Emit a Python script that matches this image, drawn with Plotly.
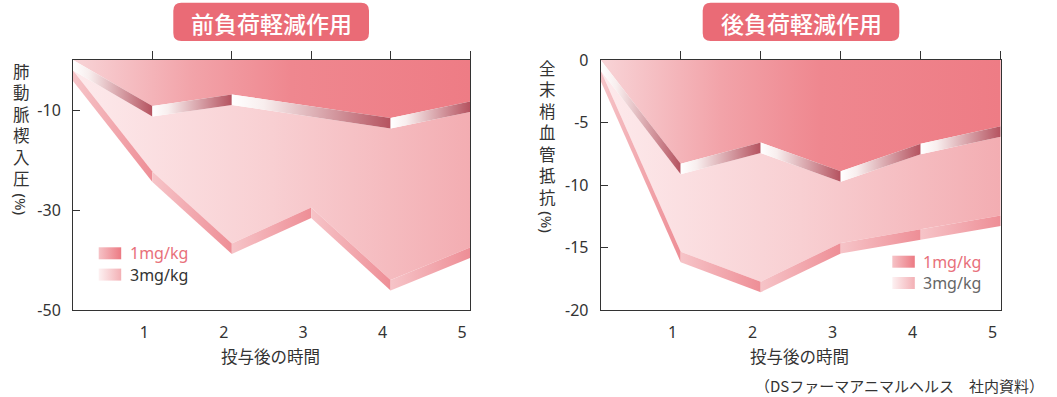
import plotly.graph_objects as go

W, H = 1057, 397

# ---- data -------------------------------------------------------------
hours = [0, 1, 2, 3, 4, 5]
x_ticks = [1, 2, 3, 4, 5]

# 前負荷軽減作用: 肺動脈楔入圧 (%)
pre_hours_1mg = [0, 1, 2, 4, 5]
pre_1mg = [0, -9.2, -6.9, -11.6, -8.3]
pre_3mg = [0, -20.2, -34.6, -27.4, -41.9, -35.4]
pre_y_ticks = [-10, -30, -50]

# 後負荷軽減作用: 全末梢血管抵抗 (%)
post_1mg = [0, -8.3, -6.6, -8.9, -6.7, -5.3]
post_3mg = [0, -14.5, -16.9, -13.8, -12.7, -11.6]
post_y_ticks = [0, -5, -10, -15, -20]

dose_labels = ["1mg/kg", "3mg/kg"]
panel_titles = ["前負荷軽減作用", "後負荷軽減作用"]
y_titles = ["肺動脈楔入圧", "全末梢血管抵抗"]
y_unit = "(%)"
x_title = "投与後の時間"
source_note = "（DSファーマアニマルヘルス　社内資料）"

# ---- styles -----------------------------------------------------------
FONT = "Noto Sans CJK JP"
NUM_FONT = "Noto Sans, Noto Sans CJK JP"
TEXT = "#333333"
ACCENT = "#ea6b76"
RIBBON_PX = 10.5          # visual thickness of the folded edges, in pixels

TOP_PLANE = [[0, "#f8d4d7"], [0.3, "#f2a3a9"], [0.55, "#ef878f"], [1, "#ee7c85"]]
LOW_PLANE = [[0, "#fdeaec"], [0.5, "#f8cfd2"], [1, "#f3adb2"]]
EDGE_1MG = [[0, "#ffffff"], [0.2, "#f8eeee"], [1, "#b5525f"]]
EDGE_3MG = [[0, "#f6c4c8"], [1, "#ee8e96"]]
SWATCH_1MG = [[0, "#f6c3c7"], [1, "#ec7a83"]]
SWATCH_3MG = [[0, "#fdf1f2"], [1, "#f3b0b5"]]

# panel boxes in pixels: (left, top, right, bottom)
boxes = [(73, 60, 470, 310), (600.7, 60, 1000.7, 310)]


def poly(xs, ys, scale, xaxis, yaxis):
    return go.Scatter(
        x=xs, y=ys, xaxis=xaxis, yaxis=yaxis, mode="lines",
        line=dict(width=0), fill="toself",
        fillgradient=dict(type="horizontal", colorscale=scale),
        hoverinfo="skip", showlegend=False,
    )


fig = go.Figure()

panels = [
    dict(h1=pre_hours_1mg, v1=pre_1mg, h3=hours, v3=pre_3mg, yr=[-50, 0],
         yt=pre_y_ticks, xa="x", ya="y"),
    dict(h1=hours, v1=post_1mg, h3=hours, v3=post_3mg, yr=[-20, 0],
         yt=post_y_ticks, xa="x2", ya="y2"),
]

for p, box in zip(panels, boxes):
    h1, v1, h3, v3 = p["h1"], p["v1"], p["h3"], p["v3"]
    d = RIBBON_PX * (p["yr"][1] - p["yr"][0]) / (box[3] - box[1])
    top = p["yr"][1]
    # upper plane (1mg/kg), from the top edge down to its line
    fig.add_trace(poly(h1 + [h1[-1], h1[0]], v1 + [top, top],
                       TOP_PLANE, p["xa"], p["ya"]))
    # lower plane (3mg/kg), one step deeper
    fig.add_trace(poly(h1 + h3[::-1],
                       [v - d for v in v1] + [v - d for v in v3][::-1],
                       LOW_PLANE, p["xa"], p["ya"]))
    # front faces of the 3mg/kg layer
    for i in range(len(h3) - 1):
        fig.add_trace(poly([h3[i], h3[i + 1], h3[i + 1], h3[i]],
                           [v3[i] - d, v3[i + 1] - d, v3[i + 1] - 2 * d, v3[i] - 2 * d],
                           EDGE_3MG, p["xa"], p["ya"]))
    # front faces of the 1mg/kg layer
    for i in range(len(h1) - 1):
        fig.add_trace(poly([h1[i], h1[i + 1], h1[i + 1], h1[i]],
                           [v1[i], v1[i + 1], v1[i + 1] - d, v1[i] - d],
                           EDGE_1MG, p["xa"], p["ya"]))

# legend swatches on a pixel overlay
legend_pos = [(98.7, 247.3, TEXT), (892.3, 255.7, "#666666")]
for lx, ly, c3 in legend_pos:
    for k, (scale, label, col) in enumerate(
            [(SWATCH_1MG, dose_labels[0], "#e8707a"), (SWATCH_3MG, dose_labels[1], c3)]):
        y0 = ly + k * 21.3
        fig.add_trace(poly([lx, lx + 22.5, lx + 22.5, lx], [y0, y0, y0 + 12, y0 + 12],
                           scale, "x5", "y5"))
        fig.add_annotation(x=lx + 29, y=y0 + 6, xref="x5", yref="y5", text=label,
                           showarrow=False, xanchor="left", yanchor="middle",
                           font=dict(family=NUM_FONT, size=16, color=col))

# ---- axes -------------------------------------------------------------
def px(v):
    return v / W


def py(v):
    return 1 - v / H


common_x = dict(range=[0, 5], showgrid=False, zeroline=False, showline=True,
                mirror=True, linecolor=TEXT, linewidth=1, ticks="",
                tickvals=x_ticks, ticktext=[str(t) for t in x_ticks],
                ticklabelshift=-8, ticklabelstandoff=8, automargin=False,
                tickfont=dict(family=NUM_FONT, size=16, color=TEXT))
top_x = dict(range=[0, 5], side="top", showgrid=False, zeroline=False,
             showline=False, ticks="outside", ticklen=8, tickcolor=TEXT,
             tickwidth=1, tickvals=x_ticks, showticklabels=False, automargin=False)
common_y = dict(showgrid=False, zeroline=False, showline=True, mirror=True,
                linecolor=TEXT, linewidth=1, ticks="inside", ticklen=7,
                tickcolor=TEXT, ticklabelstandoff=8, automargin=False,
                tickfont=dict(family=NUM_FONT, size=16, color=TEXT))

ydom = [py(boxes[0][3]), py(boxes[0][1])]
fig.update_layout(
    xaxis=dict(domain=[px(boxes[0][0]), px(boxes[0][2])], anchor="y", **common_x),
    yaxis=dict(domain=ydom, anchor="x", range=panels[0]["yr"], tickvals=pre_y_ticks,
               ticktext=[str(t) for t in pre_y_ticks], **common_y),
    xaxis2=dict(domain=[px(boxes[1][0]), px(boxes[1][2])], anchor="y2", **common_x),
    yaxis2=dict(domain=ydom, anchor="x2", range=panels[1]["yr"], tickvals=post_y_ticks,
                ticktext=[str(t) for t in post_y_ticks], **common_y),
    xaxis3=dict(overlaying="x", anchor="y", **top_x),
    xaxis4=dict(overlaying="x2", anchor="y2", **top_x),
    xaxis5=dict(domain=[0, 1], range=[0, W], visible=False, anchor="y5",
                automargin=False),
    yaxis5=dict(domain=[0, 1], range=[H, 0], visible=False, anchor="x5",
                automargin=False),
)
# make the top-tick axes render
fig.add_trace(go.Scatter(x=[None], y=[None], xaxis="x3", yaxis="y", showlegend=False))
fig.add_trace(go.Scatter(x=[None], y=[None], xaxis="x4", yaxis="y2", showlegend=False))

# ---- titles and labels ------------------------------------------------
title_boxes = [(173.3, 2.7, 369, 41), (702.7, 2.7, 899.3, 41)]
for (x0, y0, x1, y1), title in zip(title_boxes, panel_titles):
    r = 8
    path = (f"M {x0 + r},{y0} H {x1 - r} Q {x1},{y0} {x1},{y0 + r} V {y1 - r} "
            f"Q {x1},{y1} {x1 - r},{y1} H {x0 + r} Q {x0},{y1} {x0},{y1 - r} "
            f"V {y0 + r} Q {x0},{y0} {x0 + r},{y0} Z")
    fig.add_shape(type="path", path=path, xref="x5", yref="y5",
                  fillcolor=ACCENT, line=dict(width=0), layer="above")
    fig.add_annotation(x=(x0 + x1) / 2, y=(y0 + y1) / 2 + 1, xref="x5", yref="y5",
                       text=title, showarrow=False,
                       font=dict(family=FONT, size=23, color="white", weight=500))

for (x0, _, x1, _) in boxes:
    fig.add_annotation(x=(x0 + x1) / 2 - 1, y=355.5, xref="x5", yref="y5",
                       text=x_title, showarrow=False,
                       font=dict(family=FONT, size=16.5, color=TEXT))

# vertical axis titles: stacked characters, then the rotated unit
y_title_layout = [(21, 124.7, 203.5), (547.5, 132.4, 221.7)]
for (cx, cy, uy), label in zip(y_title_layout, y_titles):
    fig.add_annotation(x=cx, y=cy, xref="x5", yref="y5", text="<br>".join(label),
                       showarrow=False, yanchor="middle",
                       font=dict(family=FONT, size=16.5, color=TEXT))
    fig.add_annotation(x=cx, y=uy, xref="x5", yref="y5", text=y_unit,
                       textangle=90, showarrow=False,
                       font=dict(family=NUM_FONT, size=15, color=TEXT))

fig.add_annotation(x=1046, y=385, xref="x5", yref="y5", text=source_note,
                   showarrow=False, xanchor="right",
                   font=dict(family=FONT, size=15, color=TEXT))

fig.update_layout(
    width=W, height=H,
    margin=dict(l=0, r=0, t=0, b=0, pad=0, autoexpand=False),
    paper_bgcolor="white", plot_bgcolor="rgba(0,0,0,0)", showlegend=False,
)

fig.write_html("out.html")
